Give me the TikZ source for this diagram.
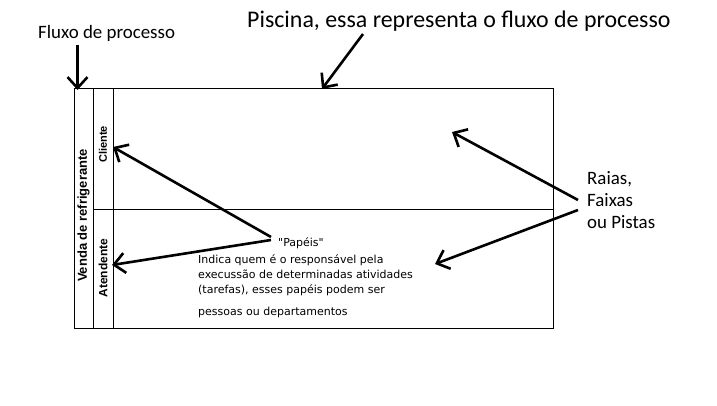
\documentclass[tikz,border=0pt]{standalone}
\usepackage{fontspec}
\setmainfont{Carlito}
\newfontfamily\tahoma{DejaVu Sans}
\newfontfamily\arialb{Liberation Sans Bold}
\usetikzlibrary{arrows.meta}
\begin{document}
\begin{tikzpicture}[x=1pt,y=-1pt,
  lane/.style={draw=black,line width=1pt},
  arr/.style={line width=2.6pt,-{Straight Barb[length=11pt,width=20pt]}},
  title/.style={font=\fontsize{23.9}{28}\selectfont, anchor=base west, inner sep=0pt},
  lbl/.style={font=\fontsize{18.9}{22}\selectfont, anchor=base west, inner sep=0pt},
  desc/.style={font=\tahoma\fontsize{11}{13}\selectfont, anchor=base west, inner sep=0pt},
  vlab/.style={font=\arialb, rotate=90, inner sep=0pt}]
\useasboundingbox (0,0) rectangle (717,406);
\fill[white] (0,0) rectangle (717,406);
% pool and lanes
\draw[lane] (74,89) rectangle (553,328);
\draw[lane] (93.5,89) -- (93.5,328);
\draw[lane] (113,89) -- (113,328);
\draw[lane] (93.5,209) -- (553,209);
% texts
\node[lbl] (fluxo) at (38,38.5) {Fluxo de processo};
\node[title] (piscina) at (247,28) {Piscina, essa representa o fluxo de processo};
\node[lbl] (raias1) at (587,185) {Raias,};
\node[lbl] (raias2) at (587,207) {Faixas};
\node[lbl] (raias3) at (587,229) {ou Pistas};
\node[desc] (papeis) at (278,246.5) {"Papéis"};
\node[desc] (d1) at (198,263.5) {Indica quem é o responsável pela};
\node[desc] (d2) at (198,278.5) {execussão de determinadas atividades};
\node[desc] (d3) at (198,293.5) {(tarefas), esses papéis podem ser};
\node[desc] (d4) at (198,315) {pessoas ou departamentos};
\node[vlab] (venda) at (83.5,215.5) {\fontsize{13}{15}\selectfont Venda de refrigerante};
\node[vlab] (cliente) at (103,144.5) {\fontsize{11}{13}\selectfont Cliente};
\node[vlab] (atendente) at (103,268) {\fontsize{12}{14}\selectfont Atendente};
% arrow ends
\coordinate (fluxoS) at (77.5,45);
\coordinate (fluxoT) at (77.5,90);
\coordinate (piscS) at (363,34);
\coordinate (piscT) at (322,89);
\coordinate (raiasA) at (578,200);
\coordinate (raiasTA) at (452,132);
\coordinate (raiasB) at (578,210);
\coordinate (raiasTB) at (435,264);
\coordinate (papA) at (271,237);
\coordinate (papTA) at (113,147);
\coordinate (papB) at (271,240);
\coordinate (papTB) at (112,265);
\draw[arr] (fluxoS) -- (fluxoT);
\draw[arr] (piscS) -- (piscT);
\draw[arr] (raiasA) -- (raiasTA);
\draw[arr] (raiasB) -- (raiasTB);
\draw[arr] (papA) -- (papTA);
\draw[arr] (papB) -- (papTB);
\end{tikzpicture}
\end{document}
